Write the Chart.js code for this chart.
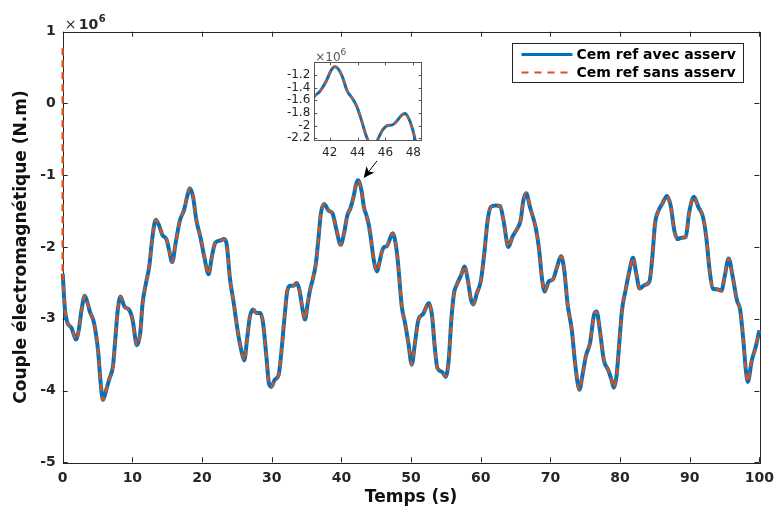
<!DOCTYPE html>
<html><head><meta charset="utf-8">
<script src="https://cdn.jsdelivr.net/npm/chart.js@4.4.0/dist/chart.umd.min.js"></script>
<style>
html,body{margin:0;padding:0;background:#fff;}
#wrap{position:relative;width:782px;height:508px;overflow:hidden;}
#main{position:absolute;left:0;top:0;}
#inset{position:absolute;left:266px;top:40px;}
</style></head><body>
<div id="wrap"><canvas id="main" width="782" height="508"></canvas><canvas id="inset" width="162" height="124"></canvas></div>
<script>
// time (s)
const timeS = [0,0.33,0.7,1.28,1.9,2.3,2.7,3.17,3.6,3.9,4.5,5.07,5.45,5.78,6.25,6.72,7.2,7.58,7.9,8.3,8.86,9.57,10.04,10.66,11.13,11.46,11.94,12.41,12.88,13.36,13.83,14.3,14.93,15.26,15.73,16.2,16.82,17.4,17.86,18.24,18.71,19.19,19.76,20.33,20.94,21.4,21.9,22.6,23.17,23.55,24.03,24.5,25.2,25.68,26.06,26.5,26.87,27.34,27.81,28.38,28.76,29.24,29.6,29.95,30.43,31,31.37,31.85,32.22,32.65,33.13,33.6,33.98,34.45,34.78,35.16,35.5,35.87,36.34,36.73,37.06,37.54,38.15,38.72,39.29,39.9,40.38,40.85,41.3,41.75,42.1,42.35,42.6,42.9,43.25,43.6,43.95,44.3,44.6,44.85,45.12,45.45,45.8,46.15,46.5,46.85,47.15,47.4,47.65,47.95,48.2,48.67,49.14,49.62,50.1,50.56,51.04,51.75,52.55,53.03,53.4,53.79,54.46,54.97,55.4,55.78,56.16,56.63,57.2,57.67,58.15,58.62,58.95,59.43,60.04,60.51,60.99,61.47,62.18,62.79,63.27,63.98,64.55,65.26,65.73,66.12,66.54,67.06,67.87,68.34,68.82,69.19,69.76,70.38,70.95,71.52,71.99,72.46,73.08,73.55,74.17,74.65,75.12,75.69,76.25,76.64,77.1,77.68,78.29,78.77,79.1,79.48,79.85,80.28,80.8,81.37,81.85,82.33,82.8,83.51,84.22,84.6,85.03,85.54,86.1,86.73,87.3,87.77,88.24,88.81,89.44,89.9,90.61,91.23,91.9,92.37,92.85,93.32,93.93,94.55,95.02,95.59,96.16,96.77,97.25,97.73,98.05,98.34,98.91,99.48,100];
// couple (x10^6 N.m), reference with control
const coupleAvec = [-2.37,-2.88,-3.06,-3.13,-3.29,-3.16,-2.88,-2.68,-2.79,-2.90,-3.06,-3.44,-3.90,-4.13,-3.99,-3.83,-3.67,-3.25,-2.88,-2.69,-2.83,-2.88,-3.02,-3.37,-3.20,-2.79,-2.51,-2.28,-1.86,-1.62,-1.70,-1.83,-1.90,-2.04,-2.21,-1.95,-1.63,-1.49,-1.30,-1.18,-1.30,-1.63,-1.86,-2.14,-2.38,-2.14,-1.94,-1.91,-1.89,-1.97,-2.46,-2.75,-3.22,-3.46,-3.58,-3.25,-2.97,-2.87,-2.92,-2.92,-3.06,-3.53,-3.90,-3.95,-3.85,-3.78,-3.48,-2.97,-2.62,-2.54,-2.54,-2.50,-2.60,-2.88,-3.01,-2.79,-2.60,-2.46,-2.23,-1.86,-1.53,-1.40,-1.49,-1.53,-1.76,-1.97,-1.81,-1.56,-1.46,-1.30,-1.13,-1.07,-1.10,-1.22,-1.45,-1.56,-1.70,-1.93,-2.15,-2.28,-2.34,-2.22,-2.07,-2.00,-1.99,-1.92,-1.84,-1.81,-1.88,-2.06,-2.30,-2.83,-3.06,-3.34,-3.64,-3.34,-3.02,-2.93,-2.78,-2.97,-3.39,-3.69,-3.74,-3.81,-3.58,-3.02,-2.65,-2.51,-2.39,-2.27,-2.46,-2.74,-2.80,-2.65,-2.46,-2.09,-1.63,-1.44,-1.42,-1.43,-1.63,-2.00,-1.86,-1.74,-1.63,-1.35,-1.25,-1.44,-1.72,-2.00,-2.46,-2.62,-2.48,-2.45,-2.28,-2.13,-2.32,-2.79,-3.16,-3.62,-3.99,-3.76,-3.51,-3.34,-2.95,-2.90,-3.16,-3.58,-3.71,-3.85,-3.96,-3.81,-3.39,-2.88,-2.60,-2.32,-2.15,-2.37,-2.58,-2.53,-2.48,-2.18,-1.67,-1.49,-1.39,-1.29,-1.44,-1.76,-1.89,-1.87,-1.86,-1.53,-1.30,-1.44,-1.58,-1.86,-2.32,-2.58,-2.59,-2.61,-2.41,-2.16,-2.41,-2.74,-2.88,-3.34,-3.71,-3.88,-3.58,-3.39,-3.16];
// start transient of the reference without control (x10^6 N.m)
const sansStartTime = [0, 0];
const sansStartValue = [0.77, -2.37];
const xTicks = [0,10,20,30,40,50,60,70,80,90,100];
const yTicks = [-5,-4,-3,-2,-1,0,1];
const insetXTicks = [42,44,46,48];
const insetYTicks = [-2.2,-2,-1.8,-1.6,-1.4,-1.2];
const seriesLabels = ['Cem ref avec asserv','Cem ref sans asserv'];
const axisTitles = ['Temps (s)','Couple électromagnétique (N.m)'];

const BLUE = '#0072BD', ORANGE = '#D95319', AX = '#262626';
const FONT = 'DejaVu Sans';

const avecPts = timeS.map((t,i)=>({x:t,y:coupleAvec[i]}));
const sansPts = avecPts.map(p=>({x:p.x,y:p.y}));
const sansStartPts = sansStartTime.map((t,i)=>({x:t,y:sansStartValue[i]}));

function makeDatasets(wB, wO, dash, clip){
  return [
    {label:seriesLabels[0], order:2, clip:clip, data:avecPts, borderColor:BLUE, borderWidth:wB, pointRadius:0, fill:false, cubicInterpolationMode:'monotone'},
    {label:seriesLabels[1], order:1, clip:clip, data:sansPts, borderColor:ORANGE, borderWidth:wO, borderDash:dash, pointRadius:0, fill:false, cubicInterpolationMode:'monotone'},
    {label:'', order:1, clip:clip, data:sansStartPts, borderColor:ORANGE, borderWidth:wO, borderDash:dash, pointRadius:0, fill:false, tension:0}
  ];
}

function boxTicks(chart, len, color, lw){
  const {ctx, chartArea:a, scales:{x, y}} = chart;
  ctx.save();
  ctx.strokeStyle = color; ctx.lineWidth = lw;
  ctx.beginPath();
  x.ticks.forEach(t=>{ const px = Math.round(x.getPixelForValue(t.value))+0.5;
    ctx.moveTo(px, a.bottom); ctx.lineTo(px, a.bottom-len);
    ctx.moveTo(px, a.top); ctx.lineTo(px, a.top+len); });
  y.ticks.forEach(t=>{ const py = Math.round(y.getPixelForValue(t.value))+0.5;
    ctx.moveTo(a.left, py); ctx.lineTo(a.left+len, py);
    ctx.moveTo(a.right, py); ctx.lineTo(a.right-len, py); });
  ctx.stroke();
  ctx.strokeRect(Math.round(a.left)+0.5, Math.round(a.top)+0.5, Math.round(a.right-a.left), Math.round(a.bottom-a.top));
  ctx.restore();
}

const arrowAnno = {tail:{x:45.12, y:-0.80}, tip:{x:43.2, y:-1.04}};

const mainPlugin = {
  id:'mainDeco',
  beforeDatasetsDraw(chart){ boxTicks(chart, 5, AX, 1); },
  afterDatasetsDraw(chart){
    const {ctx, chartArea:a, scales:{x,y}} = chart;
    // exponent label
    ctx.save();
    ctx.fillStyle = AX; ctx.textBaseline = 'alphabetic'; ctx.textAlign = 'left';
    ctx.font = '14px ' + FONT; ctx.fillText('\u00d7', a.left+2, a.top-3);
    ctx.font = 'bold 14px ' + FONT; ctx.fillText('10', a.left+16, a.top-3);
    ctx.font = 'bold 10px ' + FONT; ctx.fillText('6', a.left+36, a.top-10);
    ctx.restore();
    // legend
    const bx = Math.round(a.right)-246.5, by = Math.round(a.top)+11.5, bw = 231, bh = 39;
    ctx.save();
    ctx.fillStyle = '#fff'; ctx.fillRect(bx,by,bw,bh);
    ctx.strokeStyle = '#222'; ctx.lineWidth = 1; ctx.strokeRect(bx,by,bw,bh);
    chart.data.datasets.slice(0,2).forEach((ds,i)=>{
      const ly = by + 11 + i*18;
      ctx.beginPath(); ctx.strokeStyle = ds.borderColor; ctx.lineWidth = i===0?3:2.2;
      ctx.setLineDash(i===0?[]:[7,6]);
      ctx.moveTo(bx+9, ly); ctx.lineTo(bx+60, ly); ctx.stroke();
      ctx.setLineDash([]);
      ctx.fillStyle = '#000'; ctx.font = 'bold 14px ' + FONT; ctx.textBaseline='middle'; ctx.textAlign='left';
      ctx.fillText(ds.label, bx+64, ly+0.5);
    });
    ctx.restore();
    // arrow
    const tx = x.getPixelForValue(arrowAnno.tip.x), ty = y.getPixelForValue(arrowAnno.tip.y);
    const sx = x.getPixelForValue(arrowAnno.tail.x), sy = y.getPixelForValue(arrowAnno.tail.y);
    const ang = Math.atan2(ty-sy, tx-sx), hl = 11, hw = 5;
    ctx.save();
    ctx.strokeStyle = '#000'; ctx.fillStyle = '#000'; ctx.lineWidth = 1;
    ctx.beginPath(); ctx.moveTo(sx,sy); ctx.lineTo(tx - Math.cos(ang)*hl*0.6, ty - Math.sin(ang)*hl*0.6); ctx.stroke();
    ctx.beginPath(); ctx.moveTo(tx,ty);
    ctx.lineTo(tx - Math.cos(ang)*hl - Math.sin(ang)*hw, ty - Math.sin(ang)*hl + Math.cos(ang)*hw);
    ctx.lineTo(tx - Math.cos(ang)*hl*0.75, ty - Math.sin(ang)*hl*0.75);
    ctx.lineTo(tx - Math.cos(ang)*hl + Math.sin(ang)*hw, ty - Math.sin(ang)*hl - Math.cos(ang)*hw);
    ctx.closePath(); ctx.fill();
    ctx.restore();
  }
};

new Chart(document.getElementById('main'), {
  type:'line',
  data:{datasets:makeDatasets(4, 2.4, [7,5], 4)},
  options:{
    responsive:false, animation:false, devicePixelRatio:1,
    layout:{padding:{top:31.7, right:16, left:0, bottom:0}},
    plugins:{legend:{display:false}, tooltip:{enabled:false}},
    scales:{
      x:{type:'linear', min:0, max:100,
        afterBuildTicks:s=>{s.ticks = xTicks.map(v=>({value:v}));},
        afterFit:s=>{s.height = 45.7;},
        grid:{display:false, drawTicks:false}, border:{display:false},
        ticks:{padding:8, color:AX, maxRotation:0, autoSkip:false, font:{family:FONT, weight:'bold', size:14}, callback:v=>String(v)},
        title:{display:true, text:axisTitles[0], color:'#111', font:{family:FONT, weight:'bold', size:17}, padding:{top:0,bottom:0}}
      },
      y:{type:'linear', min:-5, max:1,
        afterBuildTicks:s=>{s.ticks = yTicks.map(v=>({value:v}));},
        afterFit:s=>{s.width = 62.7;},
        grid:{display:false, drawTicks:false}, border:{display:false},
        ticks:{padding:7, color:AX, autoSkip:false, font:{family:FONT, weight:'bold', size:14}, callback:v=>String(v)},
        title:{display:true, text:axisTitles[1], color:'#111', font:{family:FONT, weight:'bold', size:17}, padding:{top:11,bottom:0}}
      }
    }
  },
  plugins:[mainPlugin]
});

const insetPlugin = {
  id:'insetDeco',
  beforeDatasetsDraw(chart){
    const {ctx, chartArea:a} = chart;
    ctx.save(); ctx.fillStyle = '#fff'; ctx.fillRect(a.left, a.top, a.right-a.left, a.bottom-a.top); ctx.restore();
  },
  afterDatasetsDraw(chart){
    const {ctx, chartArea:a} = chart;
    boxTicks(chart, 3, '#555', 1);
    ctx.save();
    ctx.fillStyle = '#555'; ctx.textBaseline='alphabetic'; ctx.textAlign='left';
    ctx.font = '12px ' + FONT; ctx.fillText('\u00d710', a.left+1, a.top-1);
    const w = ctx.measureText('\u00d710').width;
    ctx.font = '9px ' + FONT; ctx.fillText('6', a.left+1+w, a.top-7);
    ctx.restore();
  }
};

new Chart(document.getElementById('inset'), {
  type:'line',
  data:{datasets:makeDatasets(3, 2, [5,4], 0)},
  options:{
    responsive:false, animation:false, devicePixelRatio:1,
    layout:{padding:{top:22.3, right:6.3, left:0, bottom:0}},
    plugins:{legend:{display:false}, tooltip:{enabled:false}},
    scales:{
      x:{type:'linear', min:40.9, max:48.6,
        afterBuildTicks:s=>{s.ticks = insetXTicks.map(v=>({value:v}));},
        afterFit:s=>{s.height = 23.3;},
        grid:{display:false, drawTicks:false}, border:{display:false},
        ticks:{padding:5, color:AX, maxRotation:0, autoSkip:false, font:{family:FONT, size:12}, callback:v=>String(v)}
      },
      y:{type:'linear', min:-2.24, max:-1.0,
        afterBuildTicks:s=>{s.ticks = insetYTicks.map(v=>({value:v}));},
        afterFit:s=>{s.width = 48.3;},
        grid:{display:false, drawTicks:false}, border:{display:false},
        ticks:{padding:4, color:AX, autoSkip:false, font:{family:FONT, size:12}, callback:v=>String(v)}
      }
    }
  },
  plugins:[insetPlugin]
});
</script>
</body></html>
